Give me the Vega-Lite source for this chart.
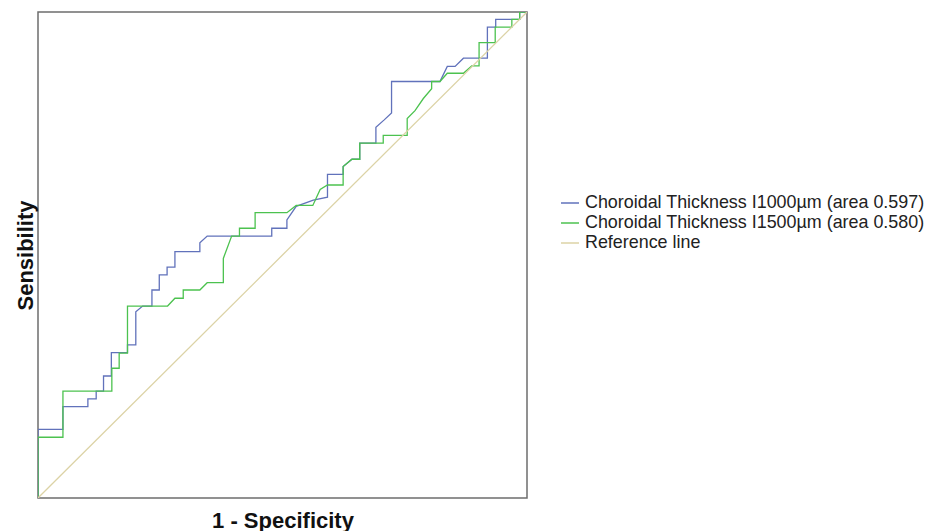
{
  "$schema": "https://vega.github.io/schema/vega-lite/v6.json",
  "width": 489,
  "height": 486,
  "autosize": "none",
  "padding": {"left": 38, "top": 12, "right": 408, "bottom": 33},
  "background": "white",
  "config": {
    "view": {"stroke": "#6e6e6e", "strokeWidth": 1.5},
    "font": "Liberation Sans"
  },
  "datasets": {
    "roc": [
      {"series": "Choroidal Thickness I1000µm (area 0.597)", "order": 1, "fpr": 0, "tpr": 0},
      {"series": "Choroidal Thickness I1000µm (area 0.597)", "order": 2, "fpr": 0, "tpr": 0.141},
      {"series": "Choroidal Thickness I1000µm (area 0.597)", "order": 3, "fpr": 0.051, "tpr": 0.141},
      {"series": "Choroidal Thickness I1000µm (area 0.597)", "order": 4, "fpr": 0.051, "tpr": 0.188},
      {"series": "Choroidal Thickness I1000µm (area 0.597)", "order": 5, "fpr": 0.102, "tpr": 0.188},
      {"series": "Choroidal Thickness I1000µm (area 0.597)", "order": 6, "fpr": 0.102, "tpr": 0.204},
      {"series": "Choroidal Thickness I1000µm (area 0.597)", "order": 7, "fpr": 0.119, "tpr": 0.204},
      {"series": "Choroidal Thickness I1000µm (area 0.597)", "order": 8, "fpr": 0.119, "tpr": 0.220},
      {"series": "Choroidal Thickness I1000µm (area 0.597)", "order": 9, "fpr": 0.134, "tpr": 0.220},
      {"series": "Choroidal Thickness I1000µm (area 0.597)", "order": 10, "fpr": 0.134, "tpr": 0.251},
      {"series": "Choroidal Thickness I1000µm (area 0.597)", "order": 11, "fpr": 0.150, "tpr": 0.251},
      {"series": "Choroidal Thickness I1000µm (area 0.597)", "order": 12, "fpr": 0.150, "tpr": 0.299},
      {"series": "Choroidal Thickness I1000µm (area 0.597)", "order": 13, "fpr": 0.183, "tpr": 0.299},
      {"series": "Choroidal Thickness I1000µm (area 0.597)", "order": 14, "fpr": 0.183, "tpr": 0.315},
      {"series": "Choroidal Thickness I1000µm (area 0.597)", "order": 15, "fpr": 0.200, "tpr": 0.315},
      {"series": "Choroidal Thickness I1000µm (area 0.597)", "order": 16, "fpr": 0.200, "tpr": 0.383},
      {"series": "Choroidal Thickness I1000µm (area 0.597)", "order": 17, "fpr": 0.214, "tpr": 0.395},
      {"series": "Choroidal Thickness I1000µm (area 0.597)", "order": 18, "fpr": 0.233, "tpr": 0.395},
      {"series": "Choroidal Thickness I1000µm (area 0.597)", "order": 19, "fpr": 0.233, "tpr": 0.428},
      {"series": "Choroidal Thickness I1000µm (area 0.597)", "order": 20, "fpr": 0.248, "tpr": 0.428},
      {"series": "Choroidal Thickness I1000µm (area 0.597)", "order": 21, "fpr": 0.248, "tpr": 0.459},
      {"series": "Choroidal Thickness I1000µm (area 0.597)", "order": 22, "fpr": 0.264, "tpr": 0.459},
      {"series": "Choroidal Thickness I1000µm (area 0.597)", "order": 23, "fpr": 0.264, "tpr": 0.475},
      {"series": "Choroidal Thickness I1000µm (area 0.597)", "order": 24, "fpr": 0.280, "tpr": 0.475},
      {"series": "Choroidal Thickness I1000µm (area 0.597)", "order": 25, "fpr": 0.280, "tpr": 0.507},
      {"series": "Choroidal Thickness I1000µm (area 0.597)", "order": 26, "fpr": 0.331, "tpr": 0.507},
      {"series": "Choroidal Thickness I1000µm (area 0.597)", "order": 27, "fpr": 0.331, "tpr": 0.525},
      {"series": "Choroidal Thickness I1000µm (area 0.597)", "order": 28, "fpr": 0.346, "tpr": 0.539},
      {"series": "Choroidal Thickness I1000µm (area 0.597)", "order": 29, "fpr": 0.478, "tpr": 0.539},
      {"series": "Choroidal Thickness I1000µm (area 0.597)", "order": 30, "fpr": 0.478, "tpr": 0.555},
      {"series": "Choroidal Thickness I1000µm (area 0.597)", "order": 31, "fpr": 0.509, "tpr": 0.555},
      {"series": "Choroidal Thickness I1000µm (area 0.597)", "order": 32, "fpr": 0.509, "tpr": 0.572},
      {"series": "Choroidal Thickness I1000µm (area 0.597)", "order": 33, "fpr": 0.528, "tpr": 0.600},
      {"series": "Choroidal Thickness I1000µm (area 0.597)", "order": 34, "fpr": 0.563, "tpr": 0.613},
      {"series": "Choroidal Thickness I1000µm (area 0.597)", "order": 35, "fpr": 0.592, "tpr": 0.619},
      {"series": "Choroidal Thickness I1000µm (area 0.597)", "order": 36, "fpr": 0.592, "tpr": 0.666},
      {"series": "Choroidal Thickness I1000µm (area 0.597)", "order": 37, "fpr": 0.624, "tpr": 0.666},
      {"series": "Choroidal Thickness I1000µm (area 0.597)", "order": 38, "fpr": 0.624, "tpr": 0.682},
      {"series": "Choroidal Thickness I1000µm (area 0.597)", "order": 39, "fpr": 0.642, "tpr": 0.697},
      {"series": "Choroidal Thickness I1000µm (area 0.597)", "order": 40, "fpr": 0.658, "tpr": 0.697},
      {"series": "Choroidal Thickness I1000µm (area 0.597)", "order": 41, "fpr": 0.658, "tpr": 0.730},
      {"series": "Choroidal Thickness I1000µm (area 0.597)", "order": 42, "fpr": 0.691, "tpr": 0.730},
      {"series": "Choroidal Thickness I1000µm (area 0.597)", "order": 43, "fpr": 0.691, "tpr": 0.763},
      {"series": "Choroidal Thickness I1000µm (area 0.597)", "order": 44, "fpr": 0.708, "tpr": 0.778},
      {"series": "Choroidal Thickness I1000µm (area 0.597)", "order": 45, "fpr": 0.723, "tpr": 0.792},
      {"series": "Choroidal Thickness I1000µm (area 0.597)", "order": 46, "fpr": 0.723, "tpr": 0.857},
      {"series": "Choroidal Thickness I1000µm (area 0.597)", "order": 47, "fpr": 0.822, "tpr": 0.857},
      {"series": "Choroidal Thickness I1000µm (area 0.597)", "order": 48, "fpr": 0.837, "tpr": 0.888},
      {"series": "Choroidal Thickness I1000µm (area 0.597)", "order": 49, "fpr": 0.853, "tpr": 0.888},
      {"series": "Choroidal Thickness I1000µm (area 0.597)", "order": 50, "fpr": 0.870, "tpr": 0.905},
      {"series": "Choroidal Thickness I1000µm (area 0.597)", "order": 51, "fpr": 0.919, "tpr": 0.905},
      {"series": "Choroidal Thickness I1000µm (area 0.597)", "order": 52, "fpr": 0.919, "tpr": 0.969},
      {"series": "Choroidal Thickness I1000µm (area 0.597)", "order": 53, "fpr": 0.936, "tpr": 0.969},
      {"series": "Choroidal Thickness I1000µm (area 0.597)", "order": 54, "fpr": 0.936, "tpr": 0.985},
      {"series": "Choroidal Thickness I1000µm (area 0.597)", "order": 55, "fpr": 0.985, "tpr": 0.985},
      {"series": "Choroidal Thickness I1000µm (area 0.597)", "order": 56, "fpr": 0.985, "tpr": 1},
      {"series": "Choroidal Thickness I1000µm (area 0.597)", "order": 57, "fpr": 1, "tpr": 1},
      {"series": "Choroidal Thickness I1500µm (area 0.580)", "order": 1, "fpr": 0, "tpr": 0},
      {"series": "Choroidal Thickness I1500µm (area 0.580)", "order": 2, "fpr": 0, "tpr": 0.125},
      {"series": "Choroidal Thickness I1500µm (area 0.580)", "order": 3, "fpr": 0.051, "tpr": 0.125},
      {"series": "Choroidal Thickness I1500µm (area 0.580)", "order": 4, "fpr": 0.051, "tpr": 0.220},
      {"series": "Choroidal Thickness I1500µm (area 0.580)", "order": 5, "fpr": 0.151, "tpr": 0.220},
      {"series": "Choroidal Thickness I1500µm (area 0.580)", "order": 6, "fpr": 0.151, "tpr": 0.267},
      {"series": "Choroidal Thickness I1500µm (area 0.580)", "order": 7, "fpr": 0.166, "tpr": 0.267},
      {"series": "Choroidal Thickness I1500µm (area 0.580)", "order": 8, "fpr": 0.166, "tpr": 0.298},
      {"series": "Choroidal Thickness I1500µm (area 0.580)", "order": 9, "fpr": 0.183, "tpr": 0.298},
      {"series": "Choroidal Thickness I1500µm (area 0.580)", "order": 10, "fpr": 0.183, "tpr": 0.395},
      {"series": "Choroidal Thickness I1500µm (area 0.580)", "order": 11, "fpr": 0.265, "tpr": 0.395},
      {"series": "Choroidal Thickness I1500µm (area 0.580)", "order": 12, "fpr": 0.280, "tpr": 0.411},
      {"series": "Choroidal Thickness I1500µm (area 0.580)", "order": 13, "fpr": 0.297, "tpr": 0.411},
      {"series": "Choroidal Thickness I1500µm (area 0.580)", "order": 14, "fpr": 0.297, "tpr": 0.428},
      {"series": "Choroidal Thickness I1500µm (area 0.580)", "order": 15, "fpr": 0.331, "tpr": 0.428},
      {"series": "Choroidal Thickness I1500µm (area 0.580)", "order": 16, "fpr": 0.346, "tpr": 0.443},
      {"series": "Choroidal Thickness I1500µm (area 0.580)", "order": 17, "fpr": 0.379, "tpr": 0.443},
      {"series": "Choroidal Thickness I1500µm (area 0.580)", "order": 18, "fpr": 0.379, "tpr": 0.493},
      {"series": "Choroidal Thickness I1500µm (area 0.580)", "order": 19, "fpr": 0.396, "tpr": 0.539},
      {"series": "Choroidal Thickness I1500µm (area 0.580)", "order": 20, "fpr": 0.412, "tpr": 0.539},
      {"series": "Choroidal Thickness I1500µm (area 0.580)", "order": 21, "fpr": 0.412, "tpr": 0.555},
      {"series": "Choroidal Thickness I1500µm (area 0.580)", "order": 22, "fpr": 0.444, "tpr": 0.555},
      {"series": "Choroidal Thickness I1500µm (area 0.580)", "order": 23, "fpr": 0.444, "tpr": 0.587},
      {"series": "Choroidal Thickness I1500µm (area 0.580)", "order": 24, "fpr": 0.509, "tpr": 0.587},
      {"series": "Choroidal Thickness I1500µm (area 0.580)", "order": 25, "fpr": 0.528, "tpr": 0.602},
      {"series": "Choroidal Thickness I1500µm (area 0.580)", "order": 26, "fpr": 0.562, "tpr": 0.602},
      {"series": "Choroidal Thickness I1500µm (area 0.580)", "order": 27, "fpr": 0.577, "tpr": 0.635},
      {"series": "Choroidal Thickness I1500µm (area 0.580)", "order": 28, "fpr": 0.592, "tpr": 0.644},
      {"series": "Choroidal Thickness I1500µm (area 0.580)", "order": 29, "fpr": 0.624, "tpr": 0.644},
      {"series": "Choroidal Thickness I1500µm (area 0.580)", "order": 30, "fpr": 0.624, "tpr": 0.682},
      {"series": "Choroidal Thickness I1500µm (area 0.580)", "order": 31, "fpr": 0.642, "tpr": 0.697},
      {"series": "Choroidal Thickness I1500µm (area 0.580)", "order": 32, "fpr": 0.658, "tpr": 0.697},
      {"series": "Choroidal Thickness I1500µm (area 0.580)", "order": 33, "fpr": 0.658, "tpr": 0.730},
      {"series": "Choroidal Thickness I1500µm (area 0.580)", "order": 34, "fpr": 0.706, "tpr": 0.730},
      {"series": "Choroidal Thickness I1500µm (area 0.580)", "order": 35, "fpr": 0.706, "tpr": 0.746},
      {"series": "Choroidal Thickness I1500µm (area 0.580)", "order": 36, "fpr": 0.755, "tpr": 0.746},
      {"series": "Choroidal Thickness I1500µm (area 0.580)", "order": 37, "fpr": 0.755, "tpr": 0.781},
      {"series": "Choroidal Thickness I1500µm (area 0.580)", "order": 38, "fpr": 0.771, "tpr": 0.797},
      {"series": "Choroidal Thickness I1500µm (area 0.580)", "order": 39, "fpr": 0.788, "tpr": 0.822},
      {"series": "Choroidal Thickness I1500µm (area 0.580)", "order": 40, "fpr": 0.805, "tpr": 0.842},
      {"series": "Choroidal Thickness I1500µm (area 0.580)", "order": 41, "fpr": 0.805, "tpr": 0.857},
      {"series": "Choroidal Thickness I1500µm (area 0.580)", "order": 42, "fpr": 0.822, "tpr": 0.857},
      {"series": "Choroidal Thickness I1500µm (area 0.580)", "order": 43, "fpr": 0.837, "tpr": 0.874},
      {"series": "Choroidal Thickness I1500µm (area 0.580)", "order": 44, "fpr": 0.870, "tpr": 0.874},
      {"series": "Choroidal Thickness I1500µm (area 0.580)", "order": 45, "fpr": 0.887, "tpr": 0.889},
      {"series": "Choroidal Thickness I1500µm (area 0.580)", "order": 46, "fpr": 0.902, "tpr": 0.889},
      {"series": "Choroidal Thickness I1500µm (area 0.580)", "order": 47, "fpr": 0.902, "tpr": 0.937},
      {"series": "Choroidal Thickness I1500µm (area 0.580)", "order": 48, "fpr": 0.935, "tpr": 0.937},
      {"series": "Choroidal Thickness I1500µm (area 0.580)", "order": 49, "fpr": 0.935, "tpr": 0.969},
      {"series": "Choroidal Thickness I1500µm (area 0.580)", "order": 50, "fpr": 0.969, "tpr": 0.969},
      {"series": "Choroidal Thickness I1500µm (area 0.580)", "order": 51, "fpr": 0.969, "tpr": 0.985},
      {"series": "Choroidal Thickness I1500µm (area 0.580)", "order": 52, "fpr": 0.985, "tpr": 0.985},
      {"series": "Choroidal Thickness I1500µm (area 0.580)", "order": 53, "fpr": 0.985, "tpr": 1},
      {"series": "Choroidal Thickness I1500µm (area 0.580)", "order": 54, "fpr": 1, "tpr": 1},
      {"series": "Reference line", "order": 1, "fpr": 0, "tpr": 0},
      {"series": "Reference line", "order": 2, "fpr": 1, "tpr": 1}
    ]
  },
  "data": {"name": "roc"},
  "mark": {"type": "line", "strokeWidth": 1.3, "clip": true},
  "encoding": {
    "x": {
      "field": "fpr", "type": "quantitative",
      "scale": {"domain": [0, 1], "nice": false, "zero": false},
      "axis": {
        "title": "1 - Specificity", "domain": false, "ticks": false, "labels": false, "grid": false,
        "titleFont": "Liberation Sans", "titleFontSize": 22, "titleFontWeight": "bold", "titleColor": "#111",
        "titleY": 22, "titleBaseline": "middle"
      }
    },
    "y": {
      "field": "tpr", "type": "quantitative",
      "scale": {"domain": [0, 1], "nice": false, "zero": false},
      "axis": {
        "title": "Sensibility", "domain": false, "ticks": false, "labels": false, "grid": false,
        "titleFont": "Liberation Sans", "titleFontSize": 22, "titleFontWeight": "bold", "titleColor": "#111",
        "titleX": -13, "titleBaseline": "middle", "titleAngle": -90
      }
    },
    "order": {"field": "order", "type": "quantitative"},
    "color": {
      "field": "series", "type": "nominal",
      "scale": {
        "domain": ["Choroidal Thickness I1000µm (area 0.597)", "Choroidal Thickness I1500µm (area 0.580)", "Reference line"],
        "range": ["#6172bb", "#4cc24f", "#dcd3a6"]
      },
      "legend": {
        "title": null, "orient": "none", "legendX": 522, "legendY": 181,
        "symbolType": "stroke", "symbolSize": 324, "symbolStrokeWidth": 1.5,
        "labelFont": "Liberation Sans", "labelFontSize": 17.9, "labelColor": "#222",
        "labelOffset": 5, "rowPadding": 1, "labelLimit": 500
      }
    }
  }
}
